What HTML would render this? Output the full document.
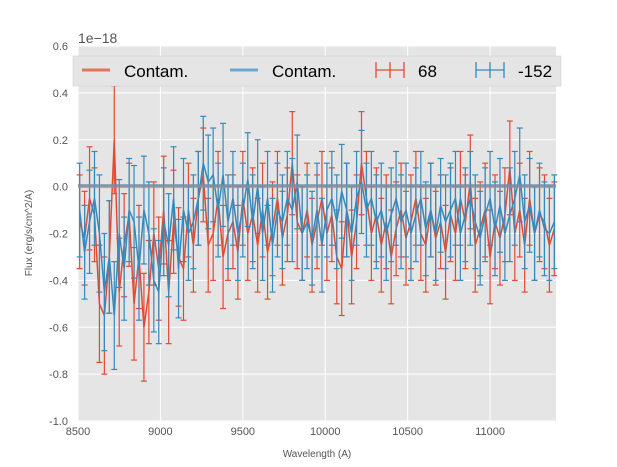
<!DOCTYPE html>
<html><head><meta charset="utf-8"><style>
body{margin:0;background:#fff;font-family:"Liberation Sans",sans-serif}
svg{display:block}
</style></head><body>
<svg id="chart" width="617" height="467" xmlns="http://www.w3.org/2000/svg">
<rect x="78" y="46" width="478" height="375" fill="#e5e5e5"/>
<g id="grid"></g>
<g id="series"></g>
<g id="axes" font-family="Liberation Sans, sans-serif" font-size="11" fill="#555"></g>
<text x="78" y="43" font-size="14" fill="#555" font-family="Liberation Sans, sans-serif">1e−18</text>
<text x="317" y="457" font-size="10" text-anchor="middle" fill="#555" font-family="Liberation Sans, sans-serif">Wavelength (A)</text>
<text transform="translate(32,233) rotate(-90)" font-size="10" text-anchor="middle" fill="#555" font-family="Liberation Sans, sans-serif">Flux (erg/s/cm^2/A)</text>
<g font-family="Liberation Sans, sans-serif" font-size="17" fill="#000">
<rect x="73" y="56" width="488" height="30" fill="#e5e5e5" stroke="#ccc" stroke-width="0.5"/>
<g><line x1="82" y1="70" x2="110" y2="70" stroke="#E8735A" stroke-width="3"/><text x="124" y="77">Contam.</text></g>
<g><line x1="230" y1="70" x2="258" y2="70" stroke="#6AA8D4" stroke-width="3"/><text x="272" y="77">Contam.</text></g>
<g stroke="#E24A33" stroke-width="1.3"><line x1="376" y1="70" x2="404" y2="70"/><line x1="390" y1="62" x2="390" y2="78"/><line x1="376" y1="62" x2="376" y2="78"/><line x1="404" y1="62" x2="404" y2="78"/><text x="418" y="77" stroke="none" fill="#000">68</text></g>
<g stroke="#348ABD" stroke-width="1.3"><line x1="476" y1="70" x2="504" y2="70"/><line x1="490" y1="62" x2="490" y2="78"/><line x1="476" y1="62" x2="476" y2="78"/><line x1="504" y1="62" x2="504" y2="78"/><text x="518" y="77" stroke="none" fill="#000">-152</text></g>
</g>
</svg>
<script>
const xTicks=[8500,9000,9500,10000,10500,11000];
const yTicks=[0.6,0.4,0.2,0.0,-0.2,-0.4,-0.6,-0.8,-1.0];
const waves=[8510,8540,8570,8600,8630,8660,8690,8720,8750,8780,8810,8840,8870,8900,8930,8960,8990,9020,9050,9080,9110,9140,9170,9200,9230,9260,9290,9320,9350,9380,9410,9440,9470,9500,9530,9560,9590,9620,9650,9680,9710,9740,9770,9800,9830,9860,9890,9920,9950,9980,10010,10040,10070,10100,10130,10160,10190,10220,10250,10280,10310,10340,10370,10400,10430,10460,10490,10520,10550,10580,10610,10640,10670,10700,10730,10760,10790,10820,10850,10880,10910,10940,10970,11000,11030,11060,11090,11120,11150,11180,11210,11240,11270,11300,11330,11360,11390];
const redFlux=[-0.15,-0.22,-0.05,-0.12,-0.5,-0.55,-0.3,0.2,-0.45,-0.25,-0.12,-0.5,-0.3,-0.6,-0.45,-0.2,-0.35,-0.1,-0.45,-0.15,-0.3,-0.35,-0.1,-0.25,-0.05,0.05,-0.25,-0.2,-0.05,-0.3,-0.2,-0.15,-0.28,-0.05,-0.2,-0.12,-0.25,-0.1,-0.28,-0.18,-0.05,-0.22,-0.12,0.1,-0.15,-0.2,-0.1,-0.25,-0.15,-0.05,-0.2,-0.12,-0.3,-0.35,-0.1,-0.3,-0.15,0.1,-0.05,-0.2,-0.12,-0.25,-0.15,-0.3,-0.18,-0.1,-0.22,-0.15,-0.05,-0.2,-0.25,-0.1,-0.22,-0.15,-0.28,-0.12,-0.2,-0.05,-0.15,0.02,-0.25,-0.18,-0.1,-0.3,-0.15,-0.22,-0.12,0.08,-0.2,-0.1,-0.25,-0.05,-0.2,-0.12,-0.15,-0.25,-0.18];
const redErr=[0.2,0.2,0.22,0.2,0.25,0.25,0.24,0.23,0.23,0.22,0.22,0.24,0.22,0.23,0.22,0.22,0.22,0.23,0.22,0.22,0.21,0.22,0.2,0.2,0.2,0.2,0.2,0.2,0.2,0.22,0.2,0.2,0.2,0.2,0.2,0.2,0.2,0.2,0.2,0.2,0.2,0.2,0.2,0.22,0.2,0.2,0.2,0.2,0.2,0.2,0.2,0.2,0.2,0.2,0.2,0.2,0.2,0.22,0.2,0.2,0.2,0.2,0.2,0.2,0.2,0.2,0.2,0.2,0.2,0.2,0.2,0.2,0.2,0.2,0.2,0.2,0.2,0.2,0.2,0.2,0.2,0.2,0.2,0.2,0.2,0.2,0.2,0.2,0.2,0.2,0.2,0.2,0.2,0.2,0.2,0.2,0.2];
const blueFlux=[-0.1,-0.28,-0.15,-0.05,-0.2,-0.45,-0.3,-0.55,-0.2,-0.35,-0.1,-0.15,-0.35,-0.1,-0.2,-0.4,-0.45,-0.15,-0.25,-0.05,-0.35,-0.1,-0.2,-0.15,-0.05,0.1,0.02,0.05,-0.1,0.05,-0.15,-0.05,-0.2,-0.1,0.03,-0.15,0.0,-0.2,-0.05,-0.25,-0.1,-0.15,-0.05,-0.1,0.02,-0.2,-0.15,-0.22,-0.1,-0.25,-0.1,-0.05,-0.15,-0.02,-0.1,-0.2,-0.05,0.02,-0.1,-0.05,-0.15,-0.1,-0.2,-0.12,-0.05,-0.15,-0.1,-0.2,-0.12,-0.05,-0.18,-0.1,-0.2,-0.08,-0.15,-0.1,-0.05,-0.2,-0.12,-0.05,-0.15,-0.22,-0.12,-0.05,-0.18,-0.08,-0.2,-0.12,-0.05,0.05,-0.15,-0.08,-0.2,-0.1,-0.18,-0.2,-0.15];
const blueErr=redErr.map(e=>e);
const contamRed=[0.0,0.0];
const contamBlue=[0.005,0.005];

const X0=78,X1=556,Y0=421,Y1=46;
const xmin=8500,xmax=11400,ymin=-1.0,ymax=0.6;
const sx=v=>X0+(v-xmin)/(xmax-xmin)*(X1-X0);
const sy=v=>Y0-(v-ymin)/(ymax-ymin)*(Y0-Y1);
const NS="http://www.w3.org/2000/svg";
function mk(tag,attrs,parent){const e=document.createElementNS(NS,tag);for(const k in attrs)e.setAttribute(k,attrs[k]);parent.appendChild(e);return e;}
const grid=document.getElementById('grid'),axes=document.getElementById('axes'),ser=document.getElementById('series');
xTicks.forEach(t=>{
 const g=mk('line',{x1:sx(t),x2:sx(t),y1:Y1,y2:Y0,stroke:'#fff','stroke-width':1},grid);
 
 
 const tx=mk('text',{x:sx(t),y:Y0+14,'text-anchor':'middle'},axes);tx.textContent=t;
 
 
});
yTicks.forEach(t=>{
 const g=mk('line',{x1:X0,x2:X1,y1:sy(t),y2:sy(t),stroke:'#fff','stroke-width':1},grid);
 
 
 const tx=mk('text',{x:X0-10,y:sy(t)+4,'text-anchor':'end'},axes);tx.textContent=t.toFixed(1);
 
 
});
function drawSeries(flux,err,color,name){
 const g=mk('g',{},ser);
 
 
 flux.forEach((v,i)=>{
  const x=sx(waves[i]);
  mk('line',{x1:x,x2:x,y1:sy(v-err[i]),y2:sy(v+err[i]),stroke:color,'stroke-width':1.2},g);
  mk('line',{x1:x-3,x2:x+3,y1:sy(v-err[i]),y2:sy(v-err[i]),stroke:color,'stroke-width':1.2},g);
  mk('line',{x1:x-3,x2:x+3,y1:sy(v+err[i]),y2:sy(v+err[i]),stroke:color,'stroke-width':1.2},g);
 });
 const p=mk('polyline',{points:flux.map((v,i)=>sx(waves[i])+','+sy(v)).join(' '),fill:'none',stroke:color,'stroke-width':1.5},g);
 
 
}
drawSeries(redFlux,redErr,'#E24A33','series-68');
drawSeries(blueFlux,blueErr,'#348ABD','series-152');
const c1=mk('line',{x1:X0,x2:X1,y1:sy(contamRed[0]),y2:sy(contamRed[1]),stroke:'#E8735A','stroke-width':3,opacity:0.7},ser);


const c2=mk('line',{x1:X0,x2:X1,y1:sy(contamBlue[0]),y2:sy(contamBlue[1]),stroke:'#6A8FB0','stroke-width':3,opacity:0.7},ser);


</script>
</body></html>
